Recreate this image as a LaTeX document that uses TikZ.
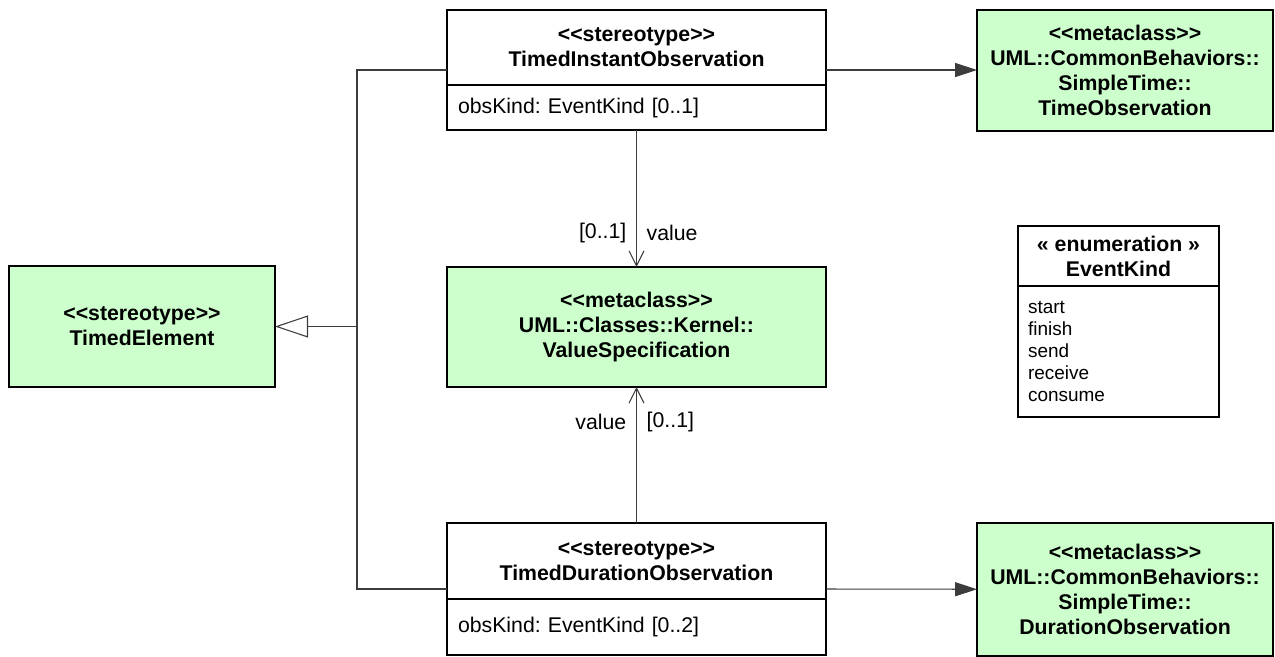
\documentclass[tikz,border=0pt]{standalone}
\usepackage{fontspec}
\setmainfont{Liberation Sans}
\usetikzlibrary{
    arrows.meta,
    positioning,
    fit
}

\definecolor{metagreen}{RGB}{204,255,204}
\definecolor{linegray}{RGB}{60,60,60}
\newcommand{\umlkw}[1]{<\kern0pt<#1>\kern0pt>}
\frenchspacing

\begin{document}
\begin{tikzpicture}[
    x=0.2mm, y=-0.2mm,
    head/.style={rectangle, draw, line width=0.8pt, outer sep=0pt, align=center, inner sep=2pt, font=\fontsize{12.1pt}{14.2pt}\selectfont\bfseries},
    meta/.style={head, fill=metagreen},
    stereo/.style={head, fill=white, minimum width=7.58cm},
    attr/.style={rectangle, draw, line width=0.8pt, outer sep=0pt, fill=white, align=left, text width=7.14cm, inner xsep=0.22cm, font=\fontsize{12.1pt}{14.2pt}\selectfont},
    lbl/.style={inner xsep=5.5pt, font=\fontsize{12.1pt}{14.2pt}\selectfont},
    conn/.style={draw=linegray, line width=0.6pt},
    depend/.style={conn, -{Triangle[length=12.5pt, width=8pt]}},
    nav/.style={conn, -{Straight Barb[length=8.5pt, width=8.5pt]}},
    generalize/.style={conn, -{Triangle[open, length=18.8pt, width=12.5pt, fill=white]}},
]
\useasboundingbox (0,0) rectangle (1275,656);

\node[stereo, minimum height=1.5cm] (tio) at (636.5,47.5) {\umlkw{stereotype}\\TimedInstantObservation};
\node[attr, minimum height=0.9cm, below=0pt of tio] (tioattr) {obsKind: EventKind [0..1]};
\node[fit=(tio)(tioattr), inner sep=0pt] (tiobox) {};

\node[stereo, minimum height=1.52cm] (tdo) at (636.5,561) {\umlkw{stereotype}\\TimedDurationObservation};
\node[attr, minimum height=1.12cm, below=0pt of tdo] (tdoattr) {obsKind: EventKind [0..2]};
\node[fit=(tdo)(tdoattr), inner sep=0pt] (tdobox) {};

\node[meta, minimum width=5.32cm, minimum height=2.42cm] (timed) at (142,326.5) {\umlkw{stereotype}\\TimedElement};
\node[meta, minimum width=7.58cm, minimum height=2.4cm] (valspec) at (636.5,327) {\umlkw{metaclass}\\UML::Classes::Kernel::\\ValueSpecification};
\node[meta, minimum width=5.92cm, minimum height=2.42cm] (timeobs) at (1125,70.5) {\umlkw{metaclass}\\UML::CommonBehaviors::\\SimpleTime::\\TimeObservation};
\node[meta, minimum width=5.92cm, minimum height=2.66cm] (durobs) at (1125,589.5) {\umlkw{metaclass}\\UML::CommonBehaviors::\\SimpleTime::\\DurationObservation};

% Enumeration
\node[head, fill=white, minimum width=4.02cm, minimum height=1.2cm] (enum) at (1118.5,256) {« enumeration »\\EventKind};
\node[attr, text width=3.62cm, inner xsep=0.2cm, minimum height=2.62cm, font=\fontsize{10.8pt}{12.5pt}\selectfont, below=0pt of enum] (enumlit) {start\\finish\\send\\receive\\consume};

\draw[depend] (tiobox.east) -- (tiobox.east -| timeobs.west);
\draw[depend] (tdobox.east) -- (durobs);

\draw[nav] (tiobox) -- (valspec)
    node[lbl, pos=0.75, left] {[0..1]}
    node[lbl, pos=0.75, right] {value};
\draw[nav] (tdobox) -- (valspec)
    node[lbl, pos=0.74, left] {value}
    node[lbl, pos=0.74, right] {[0..1]};

% Generalization
\coordinate (genjoin) at (357,326.5);
\draw[conn] (tiobox.west) -| (genjoin);
\draw[conn] (tdobox.west) -| (genjoin);
\draw[generalize] (genjoin) -- (timed);
\end{tikzpicture}
\end{document}
